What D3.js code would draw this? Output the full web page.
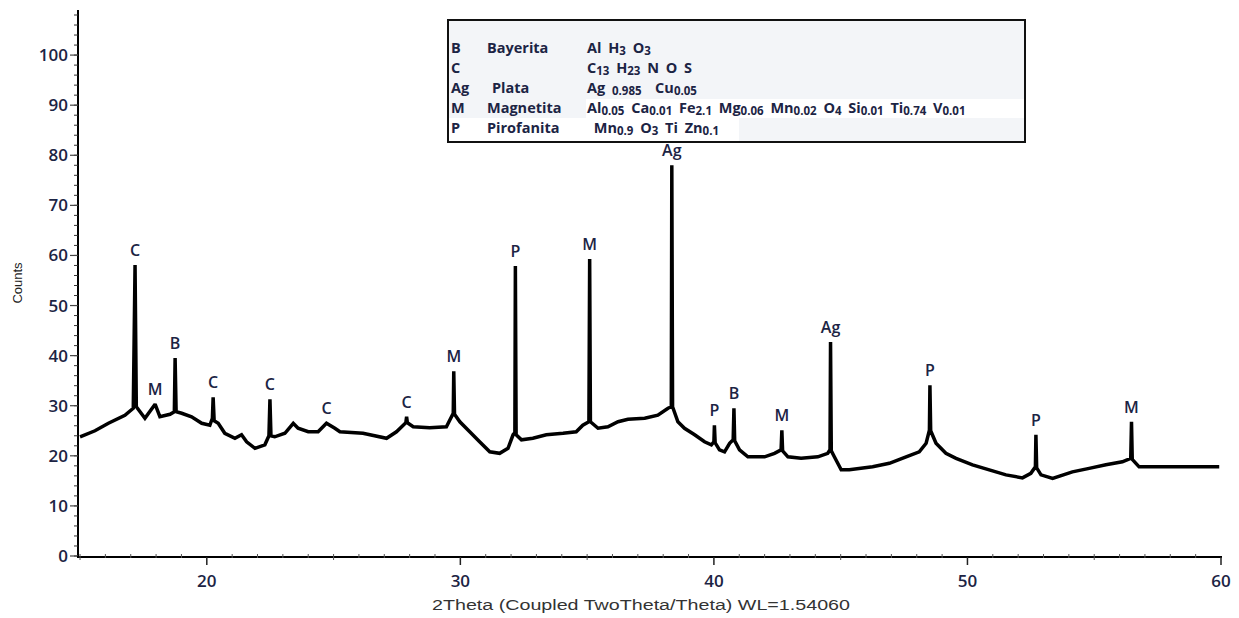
<!DOCTYPE html>
<html>
<head>
<meta charset="utf-8">
<script src="https://cdn.jsdelivr.net/npm/d3@7/dist/d3.min.js"></script>
<style>
  html, body { margin: 0; padding: 0; background: #fff; }
  svg { display: block; }
  text { white-space: pre; }
</style>
</head>
<body>
<svg id="chart" width="1239" height="618"></svg>
<script>
// Diffractogram: 2θ (degrees) vs counts
const twoTheta = [
  15.00, 15.59, 16.12, 16.77, 17.10, 17.17, 17.22, 17.56, 17.96, 18.15,
  18.55, 18.72, 18.75, 18.79, 19.01, 19.40, 19.80, 20.12, 20.22, 20.25,
  20.29, 20.45, 20.71, 21.11, 21.37, 21.57, 21.90, 22.29, 22.45, 22.49,
  22.53, 22.68, 23.08, 23.41, 23.60, 24.00, 24.39, 24.72, 25.05, 25.25,
  26.16, 27.09, 27.48, 27.85, 27.88, 27.91, 28.14, 28.79, 29.45, 29.65,
  29.72, 29.74, 29.77, 29.98, 30.37, 30.76, 31.16, 31.55, 31.88, 32.08,
  32.15, 32.17, 32.20, 32.41, 32.86, 33.39, 34.05, 34.57, 34.83, 35.07,
  35.10, 35.13, 35.43, 35.82, 36.22, 36.61, 37.27, 37.79, 38.19, 38.32,
  38.34, 38.37, 38.58, 38.84, 39.24, 39.63, 39.90, 40.00, 40.02, 40.05,
  40.22, 40.42, 40.62, 40.76, 40.79, 40.82, 41.01, 41.34, 42.00, 42.39,
  42.65, 42.68, 42.71, 42.92, 43.44, 44.10, 44.49, 44.58, 44.60, 44.63,
  44.75, 45.02, 45.34, 46.26, 46.92, 47.58, 48.10, 48.37, 48.50, 48.52,
  48.55, 48.76, 49.15, 49.55, 50.20, 50.86, 51.52, 52.17, 52.50, 52.68,
  52.70, 52.73, 52.90, 53.36, 54.14, 54.80, 55.46, 56.11, 56.44, 56.47,
  56.50, 56.77, 59.93
];
const counts = [
  23.8, 25.0, 26.5, 28.1, 29.5, 58.1, 29.8, 27.5, 30.3, 27.8,
  28.3, 28.8, 39.5, 28.8, 28.5, 27.8, 26.5, 26.1, 27.5, 31.7,
  27.0, 26.5, 24.5, 23.5, 24.2, 22.8, 21.5, 22.2, 24.0, 31.3,
  24.0, 23.8, 24.5, 26.5, 25.5, 24.8, 24.8, 26.5, 25.5, 24.8,
  24.5, 23.5, 24.8, 26.6, 27.8, 26.6, 25.8, 25.6, 25.8, 27.8,
  28.5, 36.9, 28.3, 26.8, 24.8, 22.8, 20.8, 20.5, 21.5, 24.2,
  24.6, 57.9, 24.2, 23.2, 23.5, 24.2, 24.5, 24.8, 26.1, 26.8,
  59.3, 26.8, 25.5, 25.8, 26.8, 27.3, 27.5, 28.1, 29.5, 29.8,
  78.0, 29.8, 26.8, 25.5, 24.2, 22.8, 22.2, 22.8, 26.1, 22.6,
  21.2, 20.8, 22.5, 23.2, 29.5, 23.0, 21.2, 19.8, 19.8, 20.5,
  21.2, 25.1, 21.0, 19.8, 19.5, 19.8, 20.5, 21.2, 42.7, 21.0,
  19.8, 17.2, 17.2, 17.8, 18.5, 19.8, 20.8, 22.5, 25.1, 34.1,
  25.0, 22.5, 20.5, 19.5, 18.2, 17.2, 16.2, 15.6, 16.5, 17.8,
  24.2, 17.6, 16.2, 15.5, 16.8, 17.5, 18.2, 18.8, 19.5, 26.8,
  19.3, 17.8, 17.8
];

// Phase identification labels over the peaks
const peakTheta  = [17.17, 17.96, 18.75, 20.25, 22.49, 24.72, 27.88, 29.74, 32.17, 35.10, 38.34, 40.02, 40.79, 42.68, 44.60, 48.52, 52.70, 56.47];
const peakCounts = [58.1, 30.3, 39.5, 31.7, 31.3, 26.5, 27.8, 36.9, 57.9, 59.3, 78.0, 26.1, 29.5, 25.1, 42.7, 34.1, 24.2, 26.8];
const peakPhase  = ["C", "M", "B", "C", "C", "C", "C", "M", "P", "M", "Ag", "P", "B", "M", "Ag", "P", "P", "M"];

// Axis ticks
const xTicks = [20, 30, 40, 50, 60];
const yTicks = [0, 10, 20, 30, 40, 50, 60, 70, 80, 90, 100];

// Legend: phase code, mineral name, chemical formula ("_" starts a subscript)
const legendCodes    = ["B", "C", "Ag", "M", "P"];
const legendNames    = ["Bayerita", "", "Plata", "Magnetita", "Pirofanita"];
const legendFormulas = [
  "Al H_3 O_3",
  "C_13 H_23 N O S",
  "Ag _0.985  Cu_0.05",
  "Al_0.05 Ca_0.01 Fe_2.1 Mg_0.06 Mn_0.02 O_4 Si_0.01 Ti_0.74 V_0.01",
  " Mn_0.9 O_3 Ti Zn_0.1"
];

const svg = d3.select("#chart");
const ink = "#1c2444";
const uiFont = "'Open Sans', sans-serif";

const x = d3.scaleLinear().domain([14.92, 60]).range([78, 1221]);
const y = d3.scaleLinear().domain([0, 109]).range([556, 10]);

// Y axis
const yAxis = svg.append("g").attr("transform", `translate(${x(14.92)},0)`);
yAxis.append("line")
  .attr("y1", y(0) + 1).attr("y2", y(109))
  .attr("stroke", "#000").attr("stroke-width", 2);
yAxis.selectAll("line.minor").data(d3.range(0, 109, 2))
  .join("line").attr("class", "minor")
  .attr("x1", -4).attr("x2", 0)
  .attr("y1", d => y(d)).attr("y2", d => y(d))
  .attr("stroke", "#333").attr("stroke-width", 1);
yAxis.selectAll("line.major").data(yTicks)
  .join("line").attr("class", "major")
  .attr("x1", -8).attr("x2", 0)
  .attr("y1", d => y(d)).attr("y2", d => y(d))
  .attr("stroke", "#444").attr("stroke-width", 1.2);
yAxis.selectAll("text").data(yTicks)
  .join("text")
  .attr("x", -10).attr("y", d => y(d) + 6)
  .attr("text-anchor", "end")
  .attr("font-family", uiFont)
  .attr("font-weight", 600)
  .attr("font-size", 17)
  .attr("fill", ink)
  .text(d => d);

// X axis
const xAxis = svg.append("g").attr("transform", `translate(0,${y(0) + 1})`);
xAxis.append("line")
  .attr("x1", x(14.92) - 1).attr("x2", x(60) + 1)
  .attr("stroke", "#000").attr("stroke-width", 2.2);
xAxis.selectAll("line.minor").data(d3.range(15, 60, 1).filter(d => d % 10 !== 0))
  .join("line").attr("class", "minor")
  .attr("x1", d => x(d)).attr("x2", d => x(d))
  .attr("y1", -3).attr("y2", d => d % 5 === 0 ? 3 : 1)
  .attr("stroke", "#555").attr("stroke-width", 1);
xAxis.selectAll("line.major").data(xTicks)
  .join("line").attr("class", "major")
  .attr("x1", d => x(d)).attr("x2", d => x(d))
  .attr("y1", 0).attr("y2", 8)
  .attr("stroke", "#222").attr("stroke-width", 1.5);
xAxis.selectAll("text").data(xTicks)
  .join("text")
  .attr("x", d => x(d)).attr("y", 30)
  .attr("text-anchor", "middle")
  .attr("font-family", uiFont)
  .attr("font-weight", 600)
  .attr("font-size", 17)
  .attr("fill", ink)
  .text(d => d);

// Axis titles
svg.append("text")
  .attr("x", 432).attr("y", 610)
  .attr("textLength", 418)
  .attr("lengthAdjust", "spacingAndGlyphs")
  .attr("font-family", "'Liberation Sans Narrow', 'Liberation Sans', Arial, sans-serif")
  .attr("font-size", 14)
  .attr("fill", "#333")
  .text("2Theta (Coupled TwoTheta/Theta) WL=1.54060");
svg.append("text")
  .attr("transform", "translate(22,283) rotate(-90)")
  .attr("text-anchor", "middle")
  .attr("font-family", "'Liberation Sans Narrow', 'Liberation Sans', Arial, sans-serif")
  .attr("font-size", 13)
  .attr("fill", "#222")
  .text("Counts");

// Diffraction pattern
const line = d3.line().x(d => x(d[0])).y(d => y(d[1]));
svg.append("path")
  .datum(d3.zip(twoTheta, counts))
  .attr("d", line)
  .attr("fill", "none")
  .attr("stroke", "#000")
  .attr("stroke-width", 3.5)
  .attr("stroke-linejoin", "miter")
  .attr("stroke-miterlimit", 2);

// Peak labels
svg.append("g").selectAll("text")
  .data(d3.range(peakTheta.length))
  .join("text")
  .attr("x", i => x(peakTheta[i]))
  .attr("y", i => y(peakCounts[i]) - 9)
  .attr("text-anchor", "middle")
  .attr("font-family", uiFont)
  .attr("font-weight", 600)
  .attr("font-size", 16)
  .attr("fill", ink)
  .text(i => peakPhase[i]);

// Legend box
const lg = svg.append("g");
lg.append("rect")
  .attr("x", 448).attr("y", 20).attr("width", 577).attr("height", 122)
  .attr("fill", "#f3f5f8");
lg.append("rect").attr("x", 586).attr("y", 99).attr("width", 440).attr("height", 19).attr("fill", "#fff");
lg.append("rect").attr("x", 449).attr("y", 118).attr("width", 290).attr("height", 23).attr("fill", "#fff");
lg.append("rect")
  .attr("x", 448).attr("y", 20).attr("width", 577).attr("height", 122)
  .attr("fill", "none").attr("stroke", "#111").attr("stroke-width", 2);

const rowY = [53, 73, 93, 113, 133];
const legendSize = 14.5;

lg.selectAll("text.code").data(legendCodes)
  .join("text").attr("class", "code")
  .attr("x", 451).attr("y", (d, i) => rowY[i])
  .attr("font-family", uiFont).attr("font-weight", 700)
  .attr("font-size", legendSize).attr("fill", ink)
  .text(d => d);

lg.selectAll("text.name").data(legendNames)
  .join("text").attr("class", "name")
  .attr("x", (d, i) => i === 2 ? 492 : 487).attr("y", (d, i) => rowY[i])
  .attr("font-family", uiFont).attr("font-weight", 700)
  .attr("font-size", legendSize).attr("fill", ink)
  .text(d => d);

// Formula with subscripts
legendFormulas.forEach((f, i) => {
  const t = lg.append("text")
    .attr("x", 587).attr("y", rowY[i])
    .attr("font-family", uiFont).attr("font-weight", 700)
    .attr("font-size", legendSize).attr("fill", ink)
    .attr("word-spacing", 3);
  const parts = f.match(/_[^ ]+|[^_]+/g);
  let shifted = false;
  parts.forEach(p => {
    if (p.startsWith("_")) {
      t.append("tspan").attr("font-size", 11.5).attr("dy", shifted ? 0 : 1.5)
        .text(p.slice(1));
      shifted = true;
    } else {
      t.append("tspan").attr("dy", shifted ? -1.5 : 0).text(p);
      shifted = false;
    }
  });
});
</script>
</body>
</html>
